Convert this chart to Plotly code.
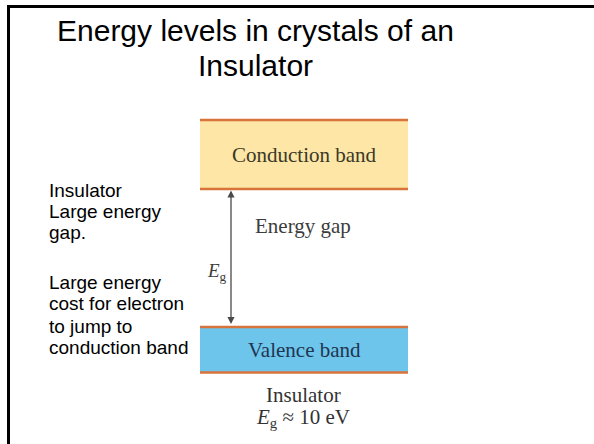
import plotly.graph_objects as go

# ---- data ----
bands = ["Conduction band", "Valence band"]
band_low = [10.0, -3.3]     # energy (eV, schematic)
band_high = [15.0, 0.0]
band_fill = ["#FDE6A6", "#6DC5EC"]
band_text_color = ["#3A3828", "#1F3550"]
gap_ev = 10                  # E_g ≈ 10 eV
title_lines = ["Energy levels in crystals of an", "Insulator"]
note_lines = ["Insulator", "Large energy", "gap.", "Large energy",
              "cost for electron", "to jump to", "conduction band"]
note_y_px = [190, 211, 232, 282, 304, 326, 347]

# ---- layout constants ----
W, H = 594, 444
ML, MT = 10, 8               # plot area offset -> slide frame edges
BX0, BX1 = 200, 408          # band horizontal extent (x axis units = px)
ARROW_X = 231
EDGE = "#D7733B"
PX_PER_EV = 13.8
ZERO_ROW = 327               # pixel row of E = 0


def row_to_e(p):
    """pixel row -> energy axis value"""
    return (ZERO_ROW - p) / PX_PER_EV


Y_RANGE = [row_to_e(H), row_to_e(MT)]


def pyp(p):
    """pixel row -> paper y (paper spans rows MT..H)"""
    return (H - p) / (H - MT)


fig = go.Figure()

for name, lo, hi, fc in zip(bands, band_low, band_high, band_fill):
    fig.add_trace(go.Scatter(
        x=[BX0, BX1, BX1, BX0, BX0], y=[lo, lo, hi, hi, lo],
        fill="toself", fillcolor=fc, mode="none", hoverinfo="skip",
        showlegend=False))
    for yy in (lo, hi):
        fig.add_trace(go.Scatter(
            x=[BX0, BX1], y=[yy, yy], mode="lines",
            line=dict(color=EDGE, width=2.5), hoverinfo="skip",
            showlegend=False))

serif = "Liberation Serif, Times New Roman, serif"
sans = "Liberation Sans, Arial, sans-serif"

ann = []
# band labels
for name, lo, hi, tc in zip(bands, band_low, band_high, band_text_color):
    ann.append(dict(x=(BX0 + BX1) / 2, y=(lo + hi) / 2, xref="x", yref="y",
                    text=name, showarrow=False, xanchor="center", yanchor="middle",
                    font=dict(family=serif, size=21, color=tc)))

# gap arrow (double headed) between valence top and conduction bottom
v_top = band_high[1]
c_bot = band_low[0]
ann.append(dict(x=ARROW_X, y=c_bot - 0.1, ax=ARROW_X, ay=v_top + 0.1,
                xref="x", yref="y", axref="x", ayref="y", text="",
                showarrow=True, arrowhead=2, startarrowhead=2,
                arrowside="end+start", arrowsize=1.1, startarrowsize=1.1,
                arrowwidth=1.3, arrowcolor="#4A4A4A"))


def txt(x, y, text, size, color, family, xanchor="center"):
    return dict(x=x, y=pyp(y), xref="x", yref="paper", text=text,
                showarrow=False, xanchor=xanchor, yanchor="middle",
                font=dict(family=family, size=size, color=color))


ann.append(txt(303, 226, "Energy gap", 21, "#3C3C3C", serif))
ann.append(txt(217, 272, "<i>E</i><sub>g</sub>", 19, "#3C3C3C", serif))
ann.append(txt(303, 395, "Insulator", 21, "#333333", serif))
ann.append(txt(303, 418, "<i>E</i><sub>g</sub> ≈ %d eV" % gap_ev, 21, "#333333", serif))

# title
for t, yp in zip(title_lines, [30, 65]):
    ann.append(txt(255, yp, t, 30, "#000000", sans))

# side notes
for t, yp in zip(note_lines, note_y_px):
    ann.append(txt(47, yp, t, 19, "#000000", sans, xanchor="left"))

axis_common = dict(showgrid=False, zeroline=False, showticklabels=False,
                   ticks="", fixedrange=True, showline=True,
                   linecolor="#000000", linewidth=3)

fig.update_layout(
    width=W, height=H, margin=dict(l=ML, r=0, t=MT, b=0, autoexpand=False),
    paper_bgcolor="white", plot_bgcolor="white",
    xaxis=dict(range=[ML, W], side="top", **axis_common),
    yaxis=dict(range=Y_RANGE, side="left", **axis_common),
    annotations=ann, showlegend=False)

fig.write_html(
    "out.html", config={"displayModeBar": False},
    post_script=("document.body.style.margin='0';"
                 "var d=document.getElementById('{plot_id}');"
                 "d.style.position='absolute';d.style.left='0px';d.style.top='0px';"))
